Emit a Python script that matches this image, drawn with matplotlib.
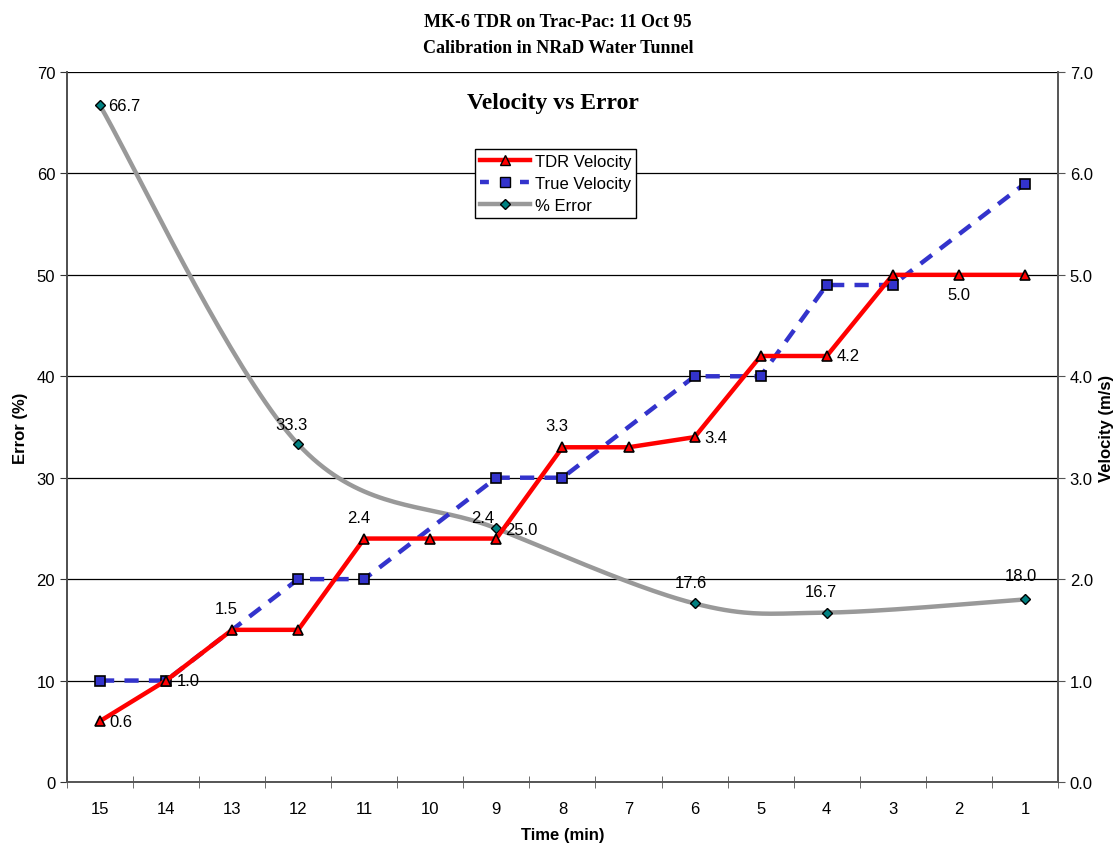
import numpy as np
import matplotlib.pyplot as plt
from matplotlib.lines import Line2D

# time categories (min), plotted from 15 down to 1
times = ['15', '14', '13', '12', '11', '10', '9', '8', '7', '6', '5', '4', '3', '2', '1']

# velocities (m/s), NaN where no reading
tdr_vel = [0.6, 1.0, 1.5, 1.5, 2.4, 2.4, 2.4, 3.3, 3.3, 3.4, 4.2, 4.2, 5.0, 5.0, 5.0]
true_vel = [1.0, 1.0, np.nan, 2.0, 2.0, np.nan, 3.0, 3.0, np.nan, 4.0, 4.0, 4.9, 4.9, np.nan, 5.9]

# % error, only at some times
err_times = ['15', '12', '9', '6', '4', '1']
err_vals = [66.7, 33.3, 25.0, 17.6, 16.7, 18.0]

# which TDR points carry a data label
tdr_labelled = ['15', '14', '13', '11', '9', '8', '6', '4', '2']

plt.rcParams['font.family'] = ['Liberation Sans', 'DejaVu Sans']

fig = plt.figure(figsize=(11.16, 8.45), dpi=100)
ax = fig.add_axes([0.060, 0.0734, 0.888, 0.8402])
ax2 = ax.twinx()

x = np.arange(len(times))
pos = {t: i for i, t in enumerate(times)}


def smooth(xs, ys, n=40):
    # Bezier smoothing through the points (like a spreadsheet "smoothed line")
    xs = np.asarray(xs, float)
    ys = np.asarray(ys, float)
    px = np.concatenate([[xs[0]], xs, [xs[-1]]])
    py = np.concatenate([[ys[0]], ys, [ys[-1]]])
    outx, outy = [], []
    t = np.linspace(0, 1, n)
    for i in range(1, len(px) - 2):
        p0 = np.array([px[i], py[i]])
        p3 = np.array([px[i + 1], py[i + 1]])
        p1 = p0 + (np.array([px[i + 1], py[i + 1]]) - np.array([px[i - 1], py[i - 1]])) / 6
        p2 = p3 - (np.array([px[i + 2], py[i + 2]]) - np.array([px[i], py[i]])) / 6
        b = ((1 - t) ** 3)[:, None] * p0 + (3 * (1 - t) ** 2 * t)[:, None] * p1 \
            + (3 * (1 - t) * t ** 2)[:, None] * p2 + (t ** 3)[:, None] * p3
        outx.extend(b[:, 0])
        outy.extend(b[:, 1])
    return outx, outy


# % error on left axis
ex = [pos[t] for t in err_times]
sx, sy = smooth(ex, err_vals)
ax.plot(sx, sy, color='#999999', lw=3.2, zorder=3, solid_capstyle='round')
ax.plot(ex, err_vals, ls='none', marker='D', ms=5.5, mfc='#008080', mec='black', mew=1, zorder=4)

# velocities on right axis
tv = np.array(true_vel)
ok = ~np.isnan(tv)
ax2.plot(x[ok], tv[ok], color='#3333CC', lw=3.2, ls=(0, (3.2, 2.3)), zorder=2)
ax2.plot(x[ok], tv[ok], ls='none', marker='s', ms=7.5, mfc='#3333CC', mec='black', mew=1.2, zorder=3)
ax2.plot(x, tdr_vel, color='#FF0000', lw=3.2, zorder=4)
ax2.plot(x, tdr_vel, ls='none', marker='^', ms=7, mfc='#FF0000', mec='black', mew=1.2, zorder=5)

# data labels
lbl_fs = 12
tdr_offsets = {'15': (7, 0, 'left', 'center'), '14': (8, 0, 'left', 'center'),
               '13': (-4, 10, 'center', 'bottom'), '11': (-4, 10, 'center', 'bottom'),
               '9': (-10, 10, 'center', 'bottom'), '8': (-4, 10, 'center', 'bottom'),
               '6': (7, 0, 'left', 'center'), '4': (7, 0, 'left', 'center'),
               '2': (0, -9, 'center', 'top')}
for t in tdr_labelled:
    dx, dy, ha, va = tdr_offsets[t]
    ax2.annotate(f'{tdr_vel[pos[t]]:.1f}', (pos[t], tdr_vel[pos[t]]), xytext=(dx, dy),
                 textcoords='offset points', ha=ha, va=va, fontsize=lbl_fs, zorder=6)

err_offsets = {'15': (6, 0, 'left', 'center'), '12': (-5, 9, 'center', 'bottom'),
               '9': (6, -1, 'left', 'center'), '6': (-3, 10, 'center', 'bottom'),
               '4': (-4, 10, 'center', 'bottom'), '1': (-3, 12, 'center', 'bottom')}
for t, v in zip(err_times, err_vals):
    dx, dy, ha, va = err_offsets[t]
    ax.annotate(f'{v:.1f}', (pos[t], v), xytext=(dx, dy), textcoords='offset points',
                ha=ha, va=va, fontsize=lbl_fs, zorder=6)

# axes
ax.set_xlim(-0.5, len(times) - 0.5)
ax.set_ylim(0, 70)
ax2.set_ylim(0, 7)
ax.set_yticks(np.arange(0, 71, 10))
ax2.set_yticks(np.arange(0, 7.1, 1))
ax2.set_yticklabels([f'{v:.1f}' for v in np.arange(0, 7.1, 1)])
ax.set_xticks(x)
ax.set_xticklabels(times)
ax.set_xticks(np.arange(-0.5, len(times), 1), minor=True)
ax.tick_params(axis='x', which='major', length=0, pad=14, labelsize=12)
ax.tick_params(axis='x', which='minor', length=8, direction='inout', color='#555555')
ax.tick_params(axis='y', length=5, direction='out', labelsize=12, color='#333333')
ax2.tick_params(axis='y', length=5, direction='out', labelsize=12, color='#555555')
ax.yaxis.grid(True, color='black', lw=0.9)
ax.set_axisbelow(True)
for a in (ax, ax2):
    for s in a.spines.values():
        s.set_color('#555555')
        s.set_linewidth(1.2)
    a.spines['top'].set_visible(False)
ax.spines['left'].set_color('#222222')

ax.set_xlabel('Time (min)', fontsize=12, fontweight='bold')
ax.set_ylabel('Error (%)', fontsize=12, fontweight='bold')
ax2.set_ylabel('Velocity (m/s)', fontsize=12, fontweight='bold')
ax.xaxis.set_label_coords(0.5, -0.064)
ax.yaxis.set_label_coords(-0.039, 0.5)
ax2.yaxis.set_label_coords(1.041, 0.5)

fig.text(0.5, 0.984, 'MK-6 TDR on Trac-Pac: 11 Oct 95\nCalibration in NRaD Water Tunnel',
         ha='center', va='top', fontsize=13, fontweight='bold',
         family=['Liberation Serif', 'DejaVu Serif'], linespacing=1.75)
ax.text(0.49, 0.957, 'Velocity vs Error', transform=ax.transAxes, ha='center', va='center',
        fontsize=17, fontweight='bold', family=['Liberation Serif', 'DejaVu Serif'], zorder=6)

handles = [
    Line2D([], [], color='#FF0000', lw=3.2, marker='^', ms=7, mfc='#FF0000', mec='black'),
    Line2D([], [], color='#3333CC', lw=3.2, ls=(0, (2, 2.5)), marker='s', ms=7,
           mfc='#3333CC', mec='black'),
    Line2D([], [], color='#999999', lw=3.2, marker='D', ms=5.5, mfc='#008080', mec='black'),
]
leg = ax2.legend(handles, ['TDR Velocity', 'True Velocity', '% Error'],
                 loc='upper left', bbox_to_anchor=(0.4117, 0.8915), fontsize=12,
                 frameon=True, fancybox=False, edgecolor='black', framealpha=1,
                 handlelength=3.0, borderpad=0.3, labelspacing=0.42, handletextpad=0.3,
                 borderaxespad=0)
leg.get_frame().set_linewidth(1)
leg.set_zorder(10)

fig.savefig('out.png', dpi=100)
